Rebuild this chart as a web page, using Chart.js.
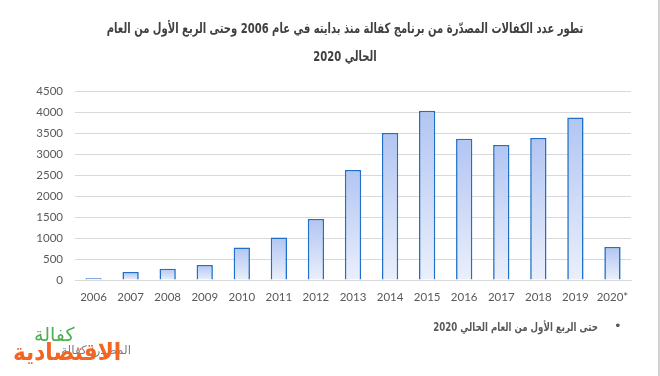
<!DOCTYPE html>
<html><head><meta charset="utf-8">
<script src="https://cdn.jsdelivr.net/npm/chart.js@4"></script>
<style>
html,body{margin:0;padding:0;background:#fff;}
#wrap{position:relative;width:660px;height:376px;overflow:hidden;background:#fff;}
#c{position:absolute;left:0;top:0;}
.t{position:absolute;font-family:"DejaVu Sans",sans-serif;direction:rtl;white-space:nowrap;}
#border{position:absolute;left:658px;top:0;width:2px;height:376px;background:#d0d0d0;}
</style></head><body>
<div id="wrap">
<canvas id="c" width="660" height="376"></canvas>
<div class="t" style="top:20px;left:0;width:690px;text-align:center;font-size:14px;font-weight:bold;color:#404040;transform:scaleX(0.715);transform-origin:345px 50%;">تطور عدد الكفالات المصدّرة من برنامج كفالة منذ بدايته في عام 2006 وحتى الربع الأول من العام</div>
<div class="t" style="top:48px;left:0;width:690px;text-align:center;font-size:14px;font-weight:bold;color:#404040;transform:scaleX(0.715);transform-origin:345px 50%;">الحالي 2020</div>
<div class="t" style="top:320px;left:398px;width:200px;text-align:right;font-size:11.5px;font-weight:bold;color:#595959;transform:scaleX(0.75);transform-origin:100% 50%;">حتى الربع الأول من العام الحالي 2020</div>
<div class="t" style="top:318px;left:614px;font-size:13px;color:#595959;">•</div>
<div class="t" style="top:343px;left:55px;width:76px;text-align:right;font-size:12px;color:#7f7f7f;">المصدر: كفالة</div>
<div class="t" style="top:323px;left:34px;font-size:19px;color:#4caf50;">كفالة</div>
<div class="t" style="top:338px;left:13px;font-size:24px;font-weight:bold;color:#f26522;transform:scaleX(0.9);transform-origin:0 50%;">الاقتصادية</div>
<div id="border"></div>
</div>
<script>
const categories = ["2006","2007","2008","2009","2010","2011","2012","2013","2014","2015","2016","2017","2018","2019","2020*"];
const guarantees = [40,190,270,357,776,1014,1452,2619,3500,4031,3364,3214,3381,3871,786];
const yTicks = [0,500,1000,1500,2000,2500,3000,3500,4000,4500];

function barFill(ctx){
  const chart = ctx.chart;
  const area = chart.chartArea;
  if(!area || ctx.raw === undefined) return '#c9d7f5';
  const y = chart.scales.y;
  const top = y.getPixelForValue(ctx.raw);
  const bottom = y.getPixelForValue(0);
  if(!(bottom - top > 0.5)) return '#b4c6f2';
  const g = chart.ctx.createLinearGradient(0, top, 0, bottom);
  g.addColorStop(0, '#b2c5f2');
  g.addColorStop(1, '#eaeffb');
  return g;
}

new Chart(document.getElementById('c'), {
  type: 'bar',
  data: {
    labels: categories,
    datasets: [{
      data: guarantees,
      backgroundColor: barFill,
      borderColor: '#1f70c8',
      borderWidth: {top:1.6,left:1.6,right:1.6,bottom:0},
      borderSkipped: 'start',
      categoryPercentage: 1,
      barPercentage: 0.44
    }]
  },
  options: {
    responsive: false,
    animation: false,
    devicePixelRatio: 1,
    layout: {padding: {left: 0, right: 29, top: 91, bottom: 0}},
    plugins: {legend: {display: false}, tooltip: {enabled: false}, title: {display: false}},
    scales: {
      x: {
        grid: {display: false, drawTicks: false},
        border: {display: true, color: '#d9d9d9', width: 1},
        ticks: {color: '#595959', font: {family: 'Lato', size: 11.5}, padding: 10, maxRotation: 0, autoSkip: false},
        afterFit: s => { s.height = 96; }
      },
      y: {
        min: 0, max: 4500,
        afterBuildTicks: s => { s.ticks = yTicks.map(v => ({value: v})); },
        grid: {color: '#d9d9d9', lineWidth: 1, drawTicks: false},
        border: {display: false},
        ticks: {color: '#595959', font: {family: 'Lato', size: 11.5}, padding: 12, callback: v => String(v)},
        afterFit: s => { s.width = 75; }
      }
    }
  }
});
</script>
</body></html>
